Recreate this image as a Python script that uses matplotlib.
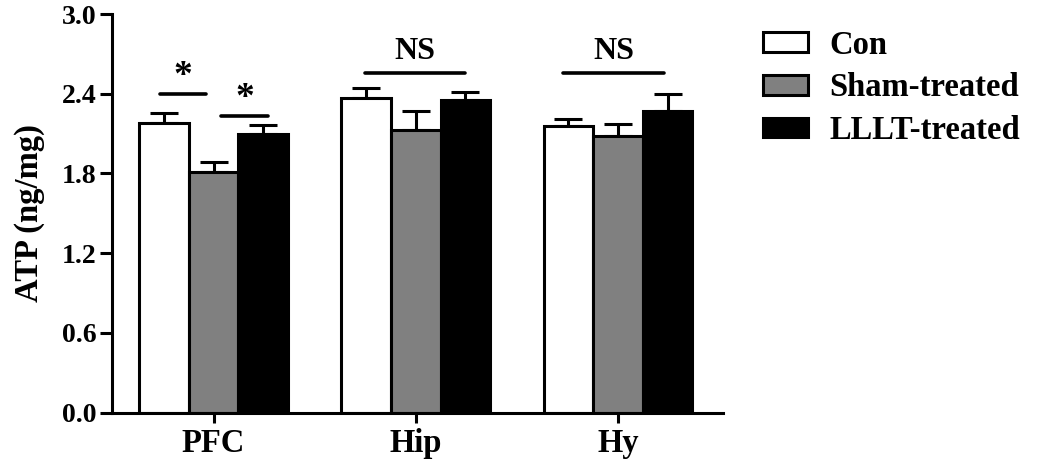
import matplotlib
matplotlib.use("Agg")
import matplotlib.pyplot as plt
import numpy as np

# ATP levels per brain region
regions = ["PFC", "Hip", "Hy"]
groups = ["Con", "Sham-treated", "LLLT-treated"]
con_mean = [2.18, 2.37, 2.16]
con_err = [0.075, 0.07, 0.05]
sham_mean = [1.81, 2.13, 2.08]
sham_err = [0.075, 0.14, 0.09]
lllt_mean = [2.10, 2.35, 2.27]
lllt_err = [0.065, 0.065, 0.125]

# significance marks: (x0, x1, y, label)
sig_x0 = [-0.265, 0.035, 0.75, 1.73]
sig_x1 = [-0.035, 0.27, 1.245, 2.23]
sig_y = [2.40, 2.235, 2.56, 2.56]
sig_txt = ["*", "*", "NS", "NS"]

plt.rcParams['font.family'] = ['Liberation Serif', 'DejaVu Serif']
plt.rcParams['font.weight'] = 'bold'

fig = plt.figure(figsize=(10.5, 4.71), dpi=100)
ax = fig.add_axes([0.1067, 0.1242, 0.582, 0.8458])

x = np.arange(len(regions))
w = 0.245
colors = ["white", "#808080", "black"]
means = [con_mean, sham_mean, lllt_mean]
errs = [con_err, sham_err, lllt_err]
for k in range(3):
    pos = x + (k - 1) * w
    ax.bar(pos, means[k], w, color=colors[k], edgecolor="black",
           linewidth=2.2, label=groups[k], zorder=2)
    ax.errorbar(pos, means[k], yerr=[np.zeros(3), errs[k]], fmt="none",
                ecolor="black", elinewidth=2.2, capsize=10, capthick=2.2,
                zorder=1)

for x0, x1, y, t in zip(sig_x0, sig_x1, sig_y, sig_txt):
    ax.plot([x0, x1], [y, y], color="black", lw=2.6, solid_capstyle="round")
    if t == "*":
        ax.text((x0 + x1) / 2, y + 0.0, t, ha="center", va="bottom",
                fontsize=27, fontweight="bold")
    else:
        ax.text((x0 + x1) / 2, y + 0.05, t, ha="center", va="bottom",
                fontsize=23, fontweight="bold")

ax.set_xlim(-0.502, 2.52)
ax.set_ylim(0, 3.0)
ax.set_yticks([0.0, 0.6, 1.2, 1.8, 2.4, 3.0])
ax.set_yticklabels(["0.0", "0.6", "1.2", "1.8", "2.4", "3.0"])
ax.set_xticks(x)
ax.set_xticklabels(regions)
ax.set_ylabel("ATP (ng/mg)", fontsize=23.5, fontweight="bold", labelpad=12)
ax.spines['top'].set_visible(False)
ax.spines['right'].set_visible(False)
ax.spines['left'].set_linewidth(2.2)
ax.spines['bottom'].set_linewidth(2.2)
ax.tick_params(axis='y', length=9, width=2.2, labelsize=20, pad=2)
ax.tick_params(axis='x', length=7, width=2.2, labelsize=23.5, pad=4)

ax.legend(loc="upper left", bbox_to_anchor=(0.714, 0.965),
          bbox_transform=fig.transFigure, frameon=False, fontsize=23.5,
          handlelength=1.4, handleheight=0.55, handletextpad=0.65,
          labelspacing=0.36, borderaxespad=0)

fig.savefig("out.png", dpi=100)
